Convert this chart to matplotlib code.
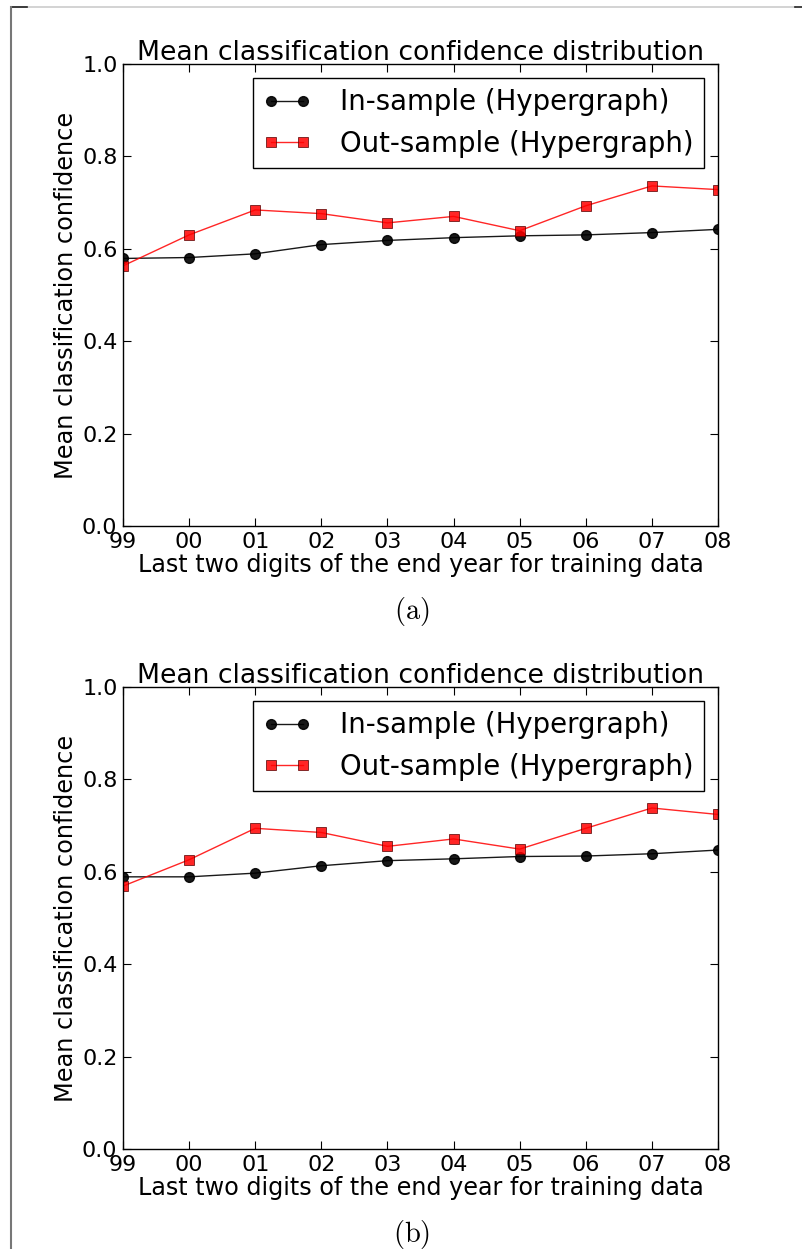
import matplotlib
matplotlib.use("Agg")
import matplotlib.pyplot as plt
from matplotlib.lines import Line2D

# Data
years = ["99", "00", "01", "02", "03", "04", "05", "06", "07", "08"]

in_sample_a = [0.579, 0.581, 0.589, 0.609, 0.618, 0.624, 0.628, 0.630, 0.635, 0.642]
out_sample_a = [0.563, 0.630, 0.684, 0.676, 0.656, 0.670, 0.639, 0.693, 0.736, 0.728]

in_sample_b = [0.589, 0.589, 0.597, 0.613, 0.624, 0.628, 0.633, 0.634, 0.639, 0.647]
out_sample_b = [0.569, 0.626, 0.694, 0.685, 0.655, 0.671, 0.649, 0.694, 0.738, 0.724]

panels = [
    ("(a)", in_sample_a, out_sample_a, 0.5789),
    ("(b)", in_sample_b, out_sample_b, 0.0801),
]

plt.rcParams["font.family"] = "DejaVu Sans"
plt.rcParams["mathtext.fontset"] = "cm"

fig = plt.figure(figsize=(8.02, 12.49), dpi=100)

# page frame lines
fig.add_artist(Line2D([11 / 802, 795 / 802], [1 - 6.5 / 1249, 1 - 6.5 / 1249], color="#cccccc", lw=1.2))
fig.add_artist(Line2D([11 / 802, 27 / 802], [1 - 6.5 / 1249, 1 - 6.5 / 1249], color="#222222", lw=1.2))
fig.add_artist(Line2D([795 / 802, 802 / 802], [1 - 6.5 / 1249, 1 - 6.5 / 1249], color="#222222", lw=1.2))
fig.add_artist(Line2D([10.5 / 802, 10.5 / 802], [0, 1 - 7 / 1249], color="#777777", lw=1.5))

x = list(range(len(years)))

for caption, ins, outs, bottom in panels:
    ax = fig.add_axes([0.1534, bottom, 0.7419, 0.3699])
    ax.plot(x, ins, "-o", color="black", lw=1.0, markersize=7,
            label="In-sample (Hypergraph)", alpha=0.9)
    ax.plot(x, outs, "-s", color="red", lw=1.0, markersize=7,
            markeredgecolor="#550000", markeredgewidth=0.6,
            label="Out-sample (Hypergraph)", alpha=0.85)
    ax.set_xlim(0, len(years) - 1)
    ax.set_ylim(0.0, 1.0)
    ax.set_xticks(x)
    ax.set_xticklabels(years)
    ax.set_yticks([0.0, 0.2, 0.4, 0.6, 0.8, 1.0])
    ax.tick_params(direction="in", top=True, right=True, labelsize=16,
                   length=6, pad=4)
    ax.set_title("Mean classification confidence distribution", fontsize=19.2, pad=3)
    ax.set_xlabel("Last two digits of the end year for training data", fontsize=17.2, labelpad=1)
    ax.set_ylabel("Mean classification confidence", fontsize=17.3, labelpad=3)
    leg = ax.legend(loc="upper right", fontsize=19.8, fancybox=False, framealpha=1,
                    edgecolor="black", numpoints=2, handlelength=1.75,
                    borderaxespad=0.5, handletextpad=1.05, borderpad=0.38)
    leg.get_frame().set_linewidth(1.0)
    for sp in ax.spines.values():
        sp.set_linewidth(1.0)
    fig.text(0.5137, bottom - 0.0685, r"$\mathrm{" + caption + "}$", fontsize=20.5,
             ha="center", va="center")

fig.savefig("out.png", dpi=100)
